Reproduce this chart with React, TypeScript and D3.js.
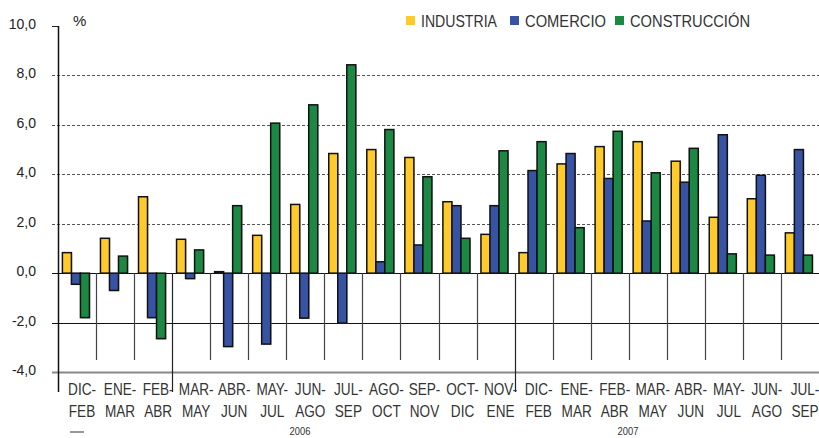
import React from "react";
import * as d3 from "d3";

const labelTop = ["DIC-","ENE-","FEB-","MAR-","ABR-","MAY-","JUN-","JUL-","AGO-","SEP-","OCT-","NOV-","DIC-","ENE-","FEB-","MAR-","ABR-","MAY-","JUN-","JUL-"];
const labelBottom = ["FEB","MAR","ABR","MAY","JUN","JUL","AGO","SEP","OCT","NOV","DIC","ENE","FEB","MAR","ABR","MAY","JUN","JUL","AGO","SEP"];
const industria = [0.83,1.41,3.09,1.37,0.06,1.53,2.78,4.84,5.0,4.68,2.89,1.57,0.83,4.42,5.12,5.32,4.53,2.26,3.01,1.63];
const comercio = [-0.45,-0.7,-1.8,-0.22,-2.97,-2.87,-1.82,-2.02,0.46,1.14,2.73,2.73,4.15,4.84,3.83,2.11,3.68,5.6,3.96,5.0];
const construccion = [-1.8,0.69,-2.65,0.94,2.73,6.07,6.81,8.43,5.81,3.9,1.41,4.95,5.32,1.84,5.74,4.06,5.05,0.78,0.73,0.73];
const seriesNames = ["INDUSTRIA","COMERCIO","CONSTRUCCIÓN"];
const seriesColors = ["#ffca2a","#3853a4","#1b8944"];
const yTicks = [-4,-2,0,2,4,6,8,10];
const yearLabels = [{ text: "2006", at: 6.36 }, { text: "2007", at: 14.98 }];
const longSeparators = [3, 12];

const W = 819, H = 438;
const left = 58, right = 819, top = 26, bottom = 372;
const NARROW = "'Liberation Sans Narrow','Arial Narrow','Liberation Sans',sans-serif";

export default function App() {
  const idx = d3.range(labelTop.length);
  const x = d3.scaleBand<number>().domain(idx).range([left, right]).paddingInner(0).paddingOuter(0);
  const xs = d3.scaleBand<number>().domain([0, 1, 2]).range([0, x.bandwidth()]).paddingInner(0).paddingOuter(0.61).align(0.4);
  const y = d3.scaleLinear().domain([-4, 10]).range([bottom, top]);
  const data = [industria, comercio, construccion];
  const fmt = (v: number) => v.toFixed(1).replace(".", ",");
  const step = x.step();

  return (
    <svg width={W} height={H} style={{ position: "absolute", left: 0, top: 0, background: "#fff" }}>
      {yTicks.map((t) => {
        const yy = Math.round(y(t)) + 0.5;
        if (t === 10) return <line key={t} x1={52} x2={left} y1={yy} y2={yy} stroke="#222" strokeWidth={1} />;
        if (t === -4) return <line key={t} x1={52} x2={right} y1={yy} y2={yy} stroke="#888" strokeWidth={2} />;
        if (t === 0 || t === -2) return <line key={t} x1={52} x2={right} y1={yy} y2={yy} stroke="#111" strokeWidth={1} />;
        return <line key={t} x1={52} x2={right} y1={yy} y2={yy} stroke="#555" strokeWidth={1} strokeDasharray="3,2" />;
      })}
      {yTicks.map((t) => (
        <text key={"l" + t} x={36} y={y(t) + 3} textAnchor="end" fontFamily="'Liberation Sans',Arial,sans-serif" fontSize={14} fill="#222">{fmt(t)}</text>
      ))}
      <text x={73} y={26} fontFamily="'Liberation Sans',Arial,sans-serif" fontSize={15} fill="#222">%</text>
      {idx.slice(1).map((i) => {
        const xx = Math.round(x(i)!) + 0.5;
        const long = longSeparators.includes(i);
        return <line key={"s" + i} x1={xx} x2={xx} y1={y(0)} y2={long ? 392 : 360} stroke={long ? "#222" : "#444"} strokeWidth={1.2} />;
      })}
      {data.map((vals, s) =>
        vals.map((v, i) => {
          const bx = x(i)! + xs(s)!;
          const y0 = y(0), y1 = y(v);
          return (
            <g key={s + "-" + i}>
              <rect x={bx + 1} y={Math.min(y0, y1) + 1} width={xs.bandwidth()} height={Math.abs(y1 - y0)} fill="#999" opacity={0.5} />
              <rect x={bx} y={Math.min(y0, y1)} width={xs.bandwidth()} height={Math.abs(y1 - y0)} fill={seriesColors[s]} stroke="#111" strokeWidth={1.5} />
            </g>
          );
        })
      )}
      <line x1={left + 0.5} x2={left + 0.5} y1={y(10)} y2={392} stroke="#111" strokeWidth={1.5} />
      {idx.map((i) => {
        const cx = x(i)! + step / 2 + 5;
        return (
          <g key={"xl" + i} transform={`translate(${cx},0) scale(0.85,1)`}>
            <text x={0} y={395} textAnchor="middle" fontFamily={NARROW} fontSize={16} fill="#333">{labelTop[i]}</text>
            <text x={0} y={417} textAnchor="middle" fontFamily={NARROW} fontSize={16} fill="#333">{labelBottom[i]}</text>
          </g>
        );
      })}
      <line x1={70} x2={84} y1={432} y2={432} stroke="#333" strokeWidth={1} />
      {yearLabels.map((yl) => (
        <g key={yl.text} transform={`translate(${left + yl.at * step},0) scale(0.85,1)`}>
          <text x={0} y={435.5} textAnchor="middle" fontFamily={NARROW} fontSize={11} fill="#333">{yl.text}</text>
        </g>
      ))}
      {seriesNames.map((n, s) => {
        const lx = [406, 510, 615][s];
        const tw = [76, 81, 120][s];
        return (
          <g key={n}>
            <rect x={lx} y={16} width={9} height={9} fill={seriesColors[s]} />
            <text x={lx + 15} y={27} fontFamily={NARROW} fontSize={17} fill="#333" textLength={tw} lengthAdjust="spacingAndGlyphs">{n}</text>
          </g>
        );
      })}
    </svg>
  );
}
